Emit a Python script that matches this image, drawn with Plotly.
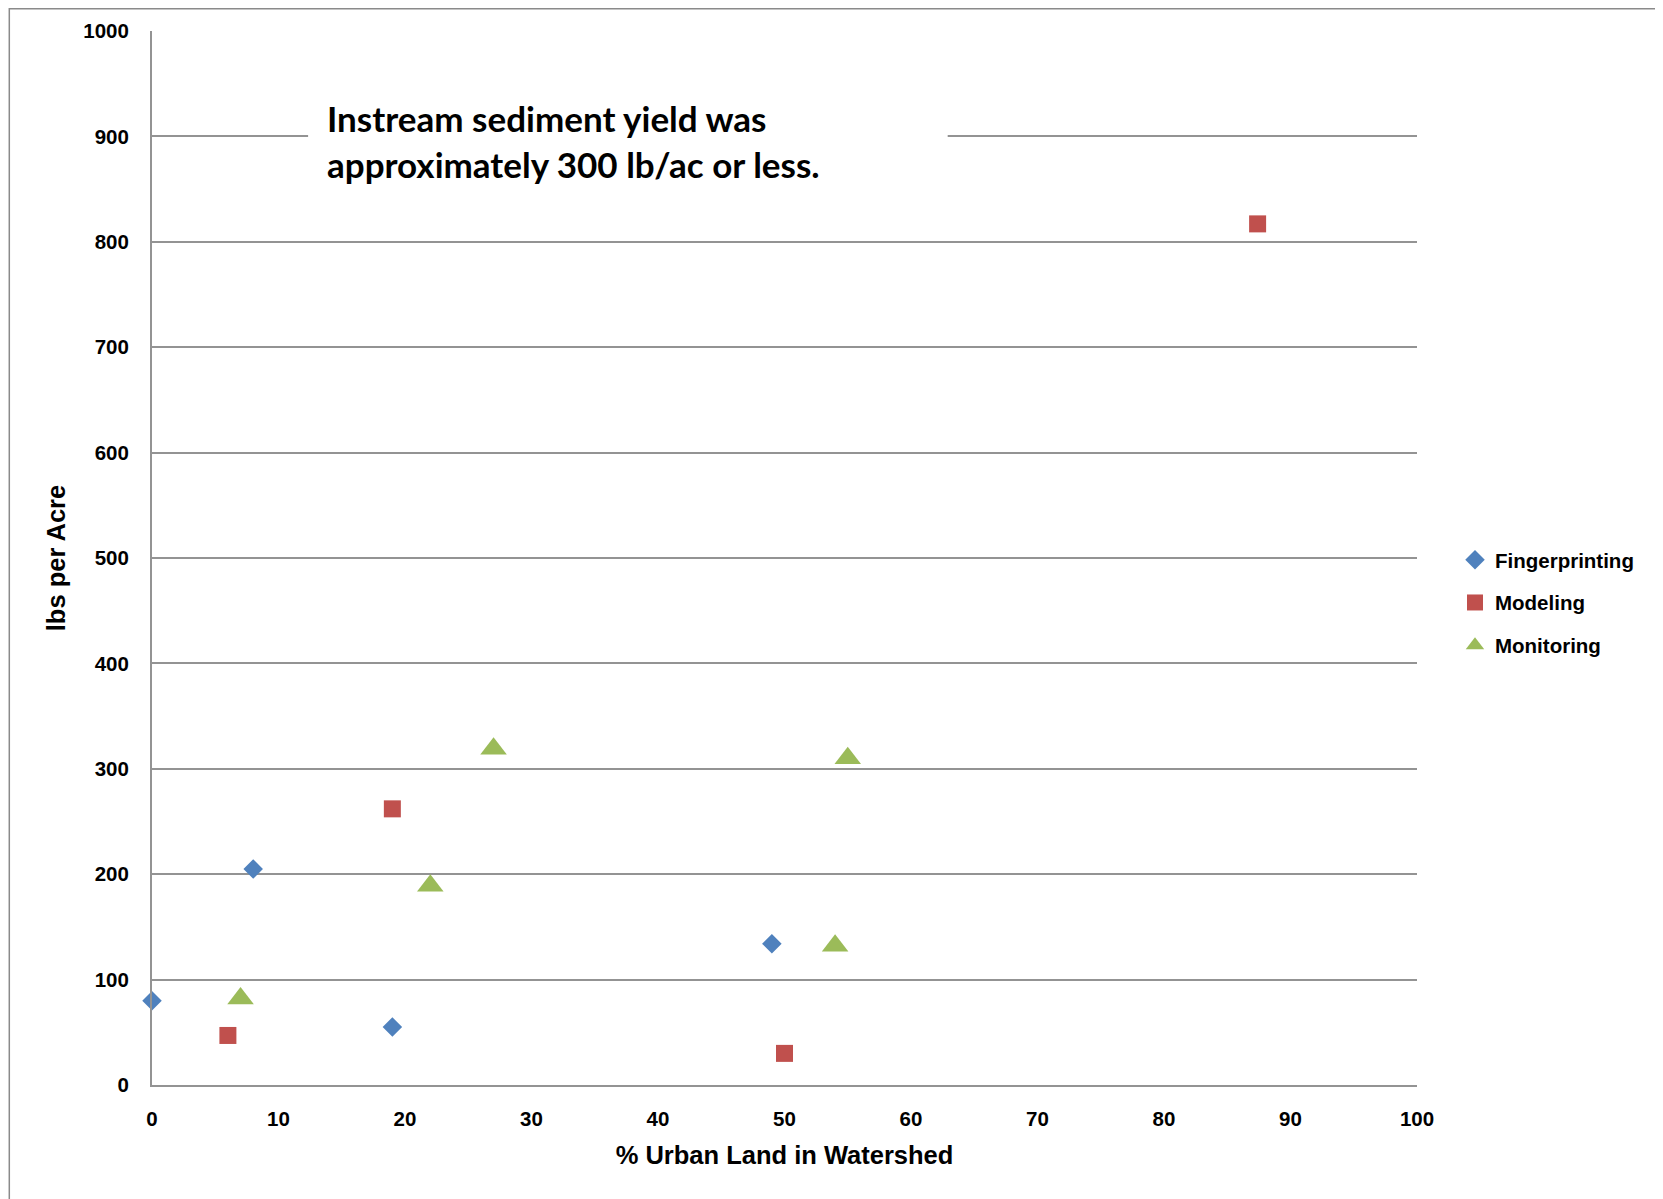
import plotly.graph_objects as go

# Data
fp_x = [0, 8, 19, 49]
fp_y = [80, 205, 55, 134]
mod_x = [6, 19, 50, 87.4]
mod_y = [47, 262, 30, 817]
mon_x = [7, 22, 27, 54, 55]
mon_y = [82, 189, 319, 132, 310]

x_ticks = [0, 10, 20, 30, 40, 50, 60, 70, 80, 90, 100]
y_ticks = [0, 100, 200, 300, 400, 500, 600, 700, 800, 900, 1000]

# page has an 8px body margin; figure sized to fit the window
W, H = 1655, 1191
L, T = 143.5, 23
R = W - 1409
B = H - 1077
PW, PH = W - L - R, H - T - B

TICK_FONT = dict(family="Liberation Sans, Arial, sans-serif", size=20.5, color="#000000")
TITLE_FONT = dict(family="Liberation Sans, Arial, sans-serif", size=25.5, color="#000000")
GRID = "#939393"

fig = go.Figure()
fig.add_trace(go.Scatter(
    x=fp_x, y=fp_y, mode="markers", name="<b>Fingerprinting</b>", legendgroup="a",
    marker=dict(symbol="diamond", size=15, color="#4F81BD"), cliponaxis=False))
fig.add_trace(go.Scatter(
    x=mod_x, y=mod_y, mode="markers", name="<b>Modeling</b>", legendgroup="b",
    marker=dict(symbol="square", size=17, color="#C0504D"), cliponaxis=False))
fig.add_trace(go.Scatter(
    x=mon_x, y=mon_y, mode="markers", name="<b>Monitoring</b>", legendgroup="c",
    marker=dict(symbol="triangle-up", size=23, color="#9BBB59"), cliponaxis=False))

# white text box over gridline
fig.add_shape(type="rect", xref="x", yref="y", x0=12.34, x1=62.9, y0=845, y1=965,
              fillcolor="white", line=dict(width=0), layer="between")
fig.add_annotation(xref="x", yref="y", x=13.65, y=896, xanchor="left", yanchor="middle",
                   align="left", showarrow=False,
                   text="<b>Instream sediment yield was<br>approximately 300 lb/ac or less.</b>",
                   font=dict(family="Lato, sans-serif", size=35, color="#000000"))

# outer chart border
fig.add_shape(type="rect", xref="paper", yref="paper",
              x0=(0.75 - L) / PW, x1=(1651.5 - L) / PW,
              y0=(H - B - 1230) / PH, y1=(H - B - 0.75) / PH,
              line=dict(color="#8a8a8a", width=1.5), fillcolor="rgba(0,0,0,0)", layer="below")

fig.update_layout(
    width=W, height=H,
    margin=dict(l=L, r=R, t=T, b=B, autoexpand=False),
    paper_bgcolor="white", plot_bgcolor="white",
    showlegend=True,
    legend=dict(x=(1447 - L) / PW, xanchor="left", y=(H - B - 532) / PH, yanchor="top",
                font=TICK_FONT, tracegroupgap=13, bgcolor="rgba(0,0,0,0)"),
    xaxis=dict(range=[0, 100], tickvals=x_ticks, ticktext=[f"<b>{v}</b>" for v in x_ticks],
               showgrid=False, zeroline=False, showline=True, linecolor=GRID, linewidth=2,
               tickfont=TICK_FONT, ticks="", ticklabelstandoff=14,
               title=dict(text="<b>% Urban Land in Watershed</b>", font=TITLE_FONT, standoff=18)),
    yaxis=dict(range=[0, 1000], tickvals=y_ticks, ticktext=[f"<b>{v}</b>" for v in y_ticks],
               showgrid=True, gridcolor=GRID, gridwidth=2, zeroline=False,
               showline=True, linecolor=GRID, linewidth=2,
               tickfont=TICK_FONT, ticks="", ticklabelstandoff=17,
               title=dict(text="<b>lbs per Acre</b>", font=TITLE_FONT, standoff=10)),
)

fig.write_html("out.html")
